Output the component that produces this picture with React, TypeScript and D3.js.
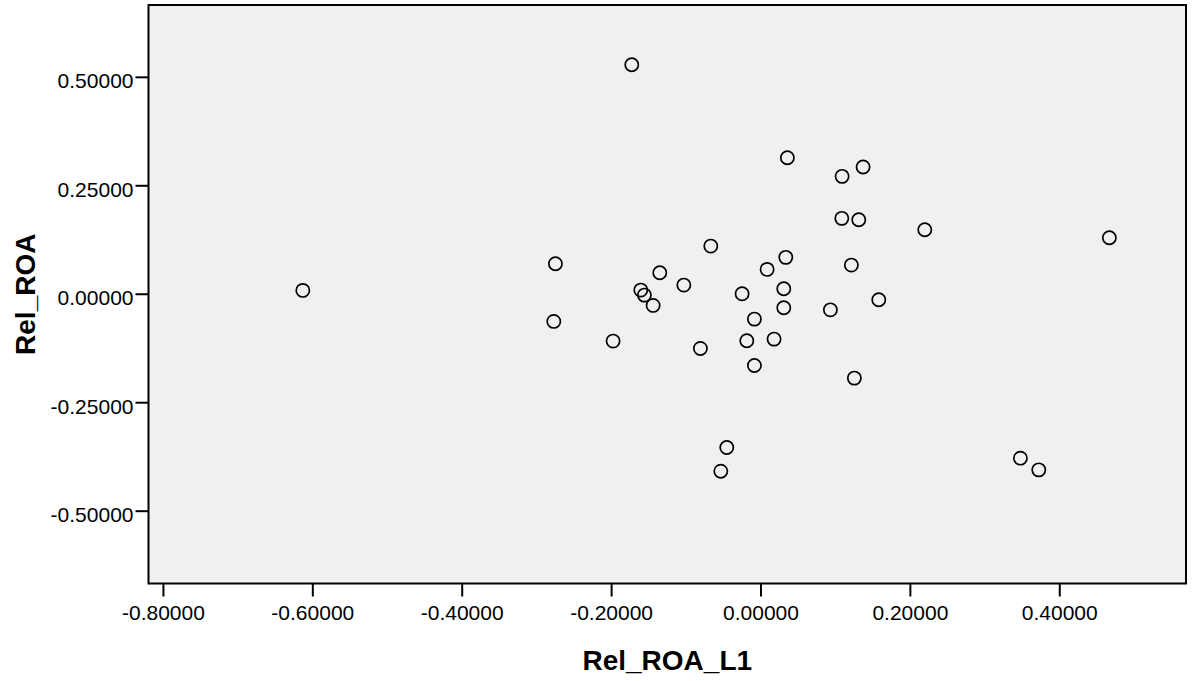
import React from "react";
import * as d3 from "d3";

const relRoaL1: number[] = [
  -0.6134, -0.173, 0.0353, 0.1086, 0.1367, 0.1082, 0.1309, 0.2193, 0.4664,
  -0.2752, -0.2774, -0.198, -0.1609, -0.1561, -0.1444, -0.1355, -0.1033,
  -0.0672, -0.0811, -0.0253, 0.0082, 0.0332, 0.0305, 0.0305, -0.0088, -0.019,
  0.0175, -0.0088, 0.121, 0.0929, 0.1577, 0.125, -0.0458, -0.0538, 0.3473,
  0.3719,
];
const relRoa: number[] = [
  0.0089, 0.5291, 0.3146, 0.2717, 0.2932, 0.1749, 0.1717, 0.1486, 0.1302,
  0.0702, -0.0626, -0.108, 0.0096, -0.002, -0.0257, 0.0495, 0.0211, 0.111,
  -0.1249, 0.001, 0.0573, 0.085, 0.0126, -0.0312, -0.0573, -0.1073, -0.1034,
  -0.1641, 0.0672, -0.0359, -0.0128, -0.1933, -0.3531, -0.4078, -0.3778,
  -0.4048,
];
const xTicks: number[] = [-0.8, -0.6, -0.4, -0.2, 0, 0.2, 0.4];
const yTicks: number[] = [-0.5, -0.25, 0, 0.25, 0.5];
const xTitle = "Rel_ROA_L1";
const yTitle = "Rel_ROA";

const W = 1194;
const H = 681;
const left = 148.5;
const right = 1186;
const top = 5;
const bottom = 583.5;
const font = "'Liberation Sans', Arial, sans-serif";

export default function App() {
  const x = d3.scaleLinear().domain([-0.82, 0.569]).range([left, right]);
  const y = d3.scaleLinear().domain([-0.6667, 0.6667]).range([bottom, top]);
  const f5 = d3.format(".5f");
  const fmt = (v: number) => f5(v).replace("\u2212", "-");
  const pts = relRoaL1.map((v, i) => ({ x: v, y: relRoa[i] }));

  return (
    <svg
      width={W}
      height={H}
      style={{ position: "absolute", left: 0, top: 0, background: "#fff" }}
    >
      <rect
        x={left}
        y={top}
        width={right - left}
        height={bottom - top}
        fill="#f0f0f0"
        stroke="none"
      />
      {pts.map((p, i) => (
        <circle
          key={i}
          cx={x(p.x)}
          cy={y(p.y)}
          r={6.6}
          fill="none"
          stroke="#000"
          strokeWidth={1.7}
        />
      ))}
      <rect
        x={left}
        y={top}
        width={right - left}
        height={bottom - top}
        fill="none"
        stroke="#000"
        strokeWidth={2}
      />
      {xTicks.map((t) => (
        <g key={"x" + t}>
          <line
            x1={x(t)}
            x2={x(t)}
            y1={bottom}
            y2={bottom + 13}
            stroke="#000"
            strokeWidth={2}
          />
          <text
            x={x(t)}
            y={620}
            textAnchor="middle"
            fontFamily={font}
            fontSize={21}
            fill="#000"
          >
            {fmt(t)}
          </text>
        </g>
      ))}
      {yTicks.map((t) => (
        <g key={"y" + t}>
          <line
            x1={left - 13}
            x2={left}
            y1={y(t)}
            y2={y(t)}
            stroke="#000"
            strokeWidth={2}
          />
          <text
            x={left - 15}
            y={y(t) + 11}
            textAnchor="end"
            fontFamily={font}
            fontSize={21}
            fill="#000"
          >
            {fmt(t)}
          </text>
        </g>
      ))}
      <text
        x={(left + right) / 2}
        y={670}
        textAnchor="middle"
        fontFamily={font}
        fontSize={28}
        fontWeight="bold"
        fill="#000"
      >
        {xTitle}
      </text>
      <text
        transform={`translate(35, ${(top + bottom) / 2}) rotate(-90)`}
        textAnchor="middle"
        fontFamily={font}
        fontSize={28}
        fontWeight="bold"
        fill="#000"
      >
        {yTitle}
      </text>
    </svg>
  );
}
